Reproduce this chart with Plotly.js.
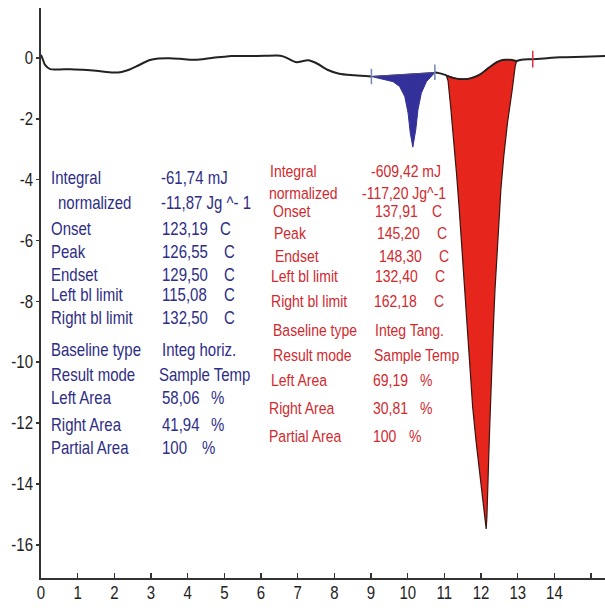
<!DOCTYPE html>
<html>
<head>
<meta charset="utf-8">
<script src="https://cdn.plot.ly/plotly-3.0.1.min.js"></script>
<style>html,body{margin:0;padding:0;background:#fff;}#chart{width:605px;height:612px;}</style>
</head>
<body>
<div id="chart"></div>
<script>
// ---- Data ----
// Main DSC curve, before the first peak (time in min, heat flow in mW)
var curveAX = [0, 0.05, 0.11, 0.25, 0.5, 0.8, 1.15, 1.5, 1.97, 2.2, 2.4, 2.6, 2.97, 3.2, 3.5, 3.8, 4.13, 4.4, 4.65, 5.0, 5.18, 5.7, 6.1, 6.44, 6.6, 6.75, 6.97, 7.15, 7.28, 7.4, 7.55, 7.81, 8.13, 8.55, 9.01];
var curveAY = [0.1, -0.05, -0.23, -0.37, -0.38, -0.37, -0.39, -0.42, -0.48, -0.46, -0.39, -0.28, -0.07, -0.02, -0.01, -0.03, -0.06, -0.04, 0.0, 0.04, 0.06, 0.06, 0.07, 0.08, 0.05, -0.03, -0.14, -0.1, -0.08, -0.12, -0.2, -0.39, -0.52, -0.57, -0.61];
// First (blue) peak
var bluePeakX = [9.01, 9.24, 9.45, 9.6, 9.78, 9.92, 10.01, 10.07, 10.14, 10.22, 10.28, 10.37, 10.51, 10.65, 10.74];
var bluePeakY = [-0.61, -0.67, -0.72, -0.78, -0.94, -1.27, -1.81, -2.47, -2.93, -2.36, -1.7, -1.16, -0.78, -0.59, -0.48];
var blueBaseX = [9.01, 10.74];
var blueBaseY = [-0.61, -0.48];
// Curve between the peaks
var midX = [10.74, 10.85, 11.0, 11.05];
var midY = [-0.48, -0.5, -0.55, -0.57];
// Second (red) peak
var redPeakX = [11.05, 11.1, 11.17, 11.26, 11.33, 11.4, 11.46, 11.52, 11.58, 11.64, 11.7, 11.77, 11.86, 11.97, 12.08, 12.14, 12.16, 12.19, 12.21, 12.24, 12.27, 12.31, 12.34, 12.38, 12.43, 12.47, 12.54, 12.62, 12.72, 12.85, 12.93, 12.97];
var redPeakY = [-0.57, -0.75, -1.59, -2.69, -3.78, -4.88, -5.97, -7.07, -8.17, -9.26, -10.36, -11.45, -12.55, -13.64, -14.74, -15.48, -15.07, -14.19, -13.1, -12.0, -10.9, -9.81, -8.71, -7.62, -6.52, -5.42, -4.33, -3.23, -2.14, -1.04, -0.28, -0.1];
var redBaseX = [11.05, 11.15, 11.3, 11.52, 11.7, 11.88, 12.0, 12.15, 12.3, 12.43, 12.55, 12.65, 12.8, 12.97];
var redBaseY = [-0.57, -0.62, -0.67, -0.7, -0.67, -0.6, -0.52, -0.38, -0.24, -0.14, -0.08, -0.06, -0.06, -0.1];
// Curve after the second peak
var tailX = [12.97, 13.1, 13.41, 13.8, 14.14, 14.8, 15.38];
var tailY = [-0.1, -0.06, -0.04, -0.01, 0.02, 0.04, 0.06];
// Baseline limit markers
var blueLimitX = [9.01, 10.74];
var blueLimitY = [-0.61, -0.47];
var redLimitX = [13.41];
var redLimitY = [-0.04];

// Axis ticks
var xTickVals = [0, 1, 2, 3, 4, 5, 6, 7, 8, 9, 10, 11, 12, 13, 14, 15];
var xTickText = ['0', '1', '2', '3', '4', '5', '6', '7', '8', '9', '10', '11', '12', '13', '14', ''];
var yTickVals = [0, -2, -4, -6, -8, -10, -12, -14, -16];
var yTickText = ['0', '-2', '-4', '-6', '-8', '-10', '-12', '-14', '-16'];
var yUnit = 'mW';

// Result tables
var blueLabels = ['Integral', 'normalized', 'Onset', 'Peak', 'Endset', 'Left bl limit', 'Right bl limit', 'Baseline type', 'Result mode', 'Left Area', 'Right Area', 'Partial Area'];
var blueValues = ['-61,74 mJ', '-11,87 Jg ^- 1', '123,19', '126,55', '129,50', '115,08', '132,50', 'Integ horiz.', 'Sample Temp', '58,06', '41,94', '100'];
var blueUnits = ['', '', 'C', 'C', 'C', 'C', 'C', '', '', '%', '%', '%'];
var redLabels = ['Integral', 'normalized', 'Onset', 'Peak', 'Endset', 'Left bl limit', 'Right bl limit', 'Baseline type', 'Result mode', 'Left Area', 'Right Area', 'Partial Area'];
var redValues = ['-609,42 mJ', '-117,20 Jg^-1', '137,91', '145,20', '148,30', '132,40', '162,18', 'Integ Tang.', 'Sample Temp', '69,19', '30,81', '100'];
var redUnits = ['', '', 'C', 'C', 'C', 'C', 'C', '', '', '%', '%', '%'];

// ---- Layout helpers (pixel positions of text in the picture) ----
var PX0 = 41, PXU = 36.67, PY0 = 58.3, PYU = 30.42;
function vx(px) { return (px - PX0) / PXU; }
function vy(py) { return -(py - PY0) / PYU; }

var blueLabelPx = [49, 56, 49, 49, 49, 49, 49, 49, 49, 49, 49, 49];
var blueValuePx = [159, 159, 160, 160, 160, 160, 160, 160, 157, 160, 160, 160];
var blueUnitPx = [0, 0, 218, 222, 222, 222, 222, 0, 0, 209, 209, 200];
var blueRowPy = [178, 203, 229, 251.5, 274.5, 295, 318, 350, 375, 397.5, 425, 447.5];
var redLabelPx = [268, 267, 270.5, 271.5, 273, 269, 269, 270.5, 270.5, 269, 267, 267];
var redValuePx = [369, 360, 372.5, 375, 376.5, 372.5, 371.5, 372.5, 371.5, 370.5, 370.5, 370.5];
var redUnitPx = [0, 0, 430, 435, 436.5, 432.5, 431.5, 0, 0, 418, 418, 406.5];
var redRowPy = [171, 193, 211.5, 233, 256.5, 276.5, 301.5, 330, 355.5, 380.5, 408, 436];

var FONT = '"Liberation Sans", Arial, sans-serif';
var BLUE_TXT = '#2d2d86';
var RED_TXT = '#d02a2e';

var annotations = [];
function addText(px, py, txt, color, size) {
  annotations.push({
    x: vx(px), y: vy(py), xref: 'x', yref: 'y', text: txt, showarrow: false,
    xanchor: 'left', yanchor: 'middle', font: {family: FONT, size: size, color: color}
  });
}
for (var i = 0; i < blueLabels.length; i++) {
  addText(blueLabelPx[i], blueRowPy[i], blueLabels[i], BLUE_TXT, 15);
  addText(blueValuePx[i], blueRowPy[i], blueValues[i], BLUE_TXT, 15);
  if (blueUnits[i]) addText(blueUnitPx[i], blueRowPy[i], blueUnits[i], BLUE_TXT, 15);
}
for (var j = 0; j < redLabels.length; j++) {
  addText(redLabelPx[j], redRowPy[j], redLabels[j], RED_TXT, 14);
  addText(redValuePx[j], redRowPy[j], redValues[j], RED_TXT, 14);
  if (redUnits[j]) addText(redUnitPx[j], redRowPy[j], redUnits[j], RED_TXT, 14);
}
annotations.push({
  x: vx(24), y: vy(23), xref: 'x', yref: 'y', text: yUnit, showarrow: false,
  xanchor: 'center', yanchor: 'middle', font: {family: FONT, size: 16, color: '#222'}
});

var bluePolyX = bluePeakX.concat(blueBaseX.slice().reverse());
var bluePolyY = bluePeakY.concat(blueBaseY.slice().reverse());
var redPolyX = redPeakX.concat(redBaseX.slice().reverse());
var redPolyY = redPeakY.concat(redBaseY.slice().reverse());

var traces = [
  {x: bluePolyX, y: bluePolyY, mode: 'lines', fill: 'toself', fillcolor: '#34309a',
   line: {color: '#34309a', width: 1}, hoverinfo: 'skip'},
  {x: redPolyX, y: redPolyY, mode: 'lines', fill: 'toself', fillcolor: '#e6261c',
   line: {color: '#3b1512', width: 1.2}, hoverinfo: 'skip'},
  {x: blueBaseX, y: blueBaseY, mode: 'lines', line: {color: '#4a4a7a', width: 1}, hoverinfo: 'skip'},
  {x: redBaseX, y: redBaseY, mode: 'lines', line: {color: '#222', width: 1.8, shape: 'spline'}, hoverinfo: 'skip'},
  {x: curveAX, y: curveAY, mode: 'lines', line: {color: '#222', width: 2, shape: 'spline', smoothing: 0.8}, hoverinfo: 'skip'},
  {x: midX, y: midY, mode: 'lines', line: {color: '#222', width: 2, shape: 'spline'}, hoverinfo: 'skip'},
  {x: tailX, y: tailY, mode: 'lines', line: {color: '#222', width: 2, shape: 'spline'}, hoverinfo: 'skip'},
  {x: blueLimitX, y: blueLimitY, mode: 'markers', marker: {symbol: 'line-ns', size: 11, line: {color: '#7484b8', width: 1.5}}, hoverinfo: 'skip'},
  {x: redLimitX, y: redLimitY, mode: 'markers', marker: {symbol: 'line-ns', size: 12, line: {color: '#e0304a', width: 1.5}}, hoverinfo: 'skip'}
];

var layout = {
  width: 605, height: 612,
  margin: {l: 41, r: 0, t: 8, b: 34, pad: 0},
  paper_bgcolor: '#ffffff', plot_bgcolor: '#ffffff',
  showlegend: false,
  xaxis: {
    range: [0, 15.38], tickmode: 'array', tickvals: xTickVals, ticktext: xTickText,
    ticks: 'inside', ticklen: 5, tickwidth: 1.5, tickcolor: '#333',
    showline: true, linewidth: 2, linecolor: '#333', showgrid: false, zeroline: false,
    tickfont: {family: FONT, size: 15, color: '#222'}, fixedrange: true
  },
  yaxis: {
    range: [-17.09, 1.64], tickmode: 'array', tickvals: yTickVals, ticktext: yTickText,
    ticks: 'outside', ticklen: 3, tickwidth: 1.5, tickcolor: '#333',
    showline: true, linewidth: 2, linecolor: '#333', showgrid: false, zeroline: false,
    tickfont: {family: FONT, size: 15, color: '#222'}, fixedrange: true
  },
  annotations: annotations
};

// The original lettering is taller and narrower than Arial: stretch text vertically about its centre.
function stretchText(gd, s) {
  var nodes = gd.querySelectorAll('text.annotation-text, .xtick text, .ytick text');
  nodes.forEach(function (t) {
    try {
      var b = t.getBBox();
      var cy = b.y + b.height / 2;
      var prev = t.getAttribute('transform') || '';
      t.setAttribute('transform', (prev + ' translate(0,' + cy + ') scale(1,' + s + ') translate(0,' + (-cy) + ')').trim());
    } catch (e) {}
  });
}

Plotly.newPlot('chart', traces, layout, {staticPlot: true, displayModeBar: false}).then(function (gd) {
  stretchText(gd, 1.18);
});
</script>
</body>
</html>
